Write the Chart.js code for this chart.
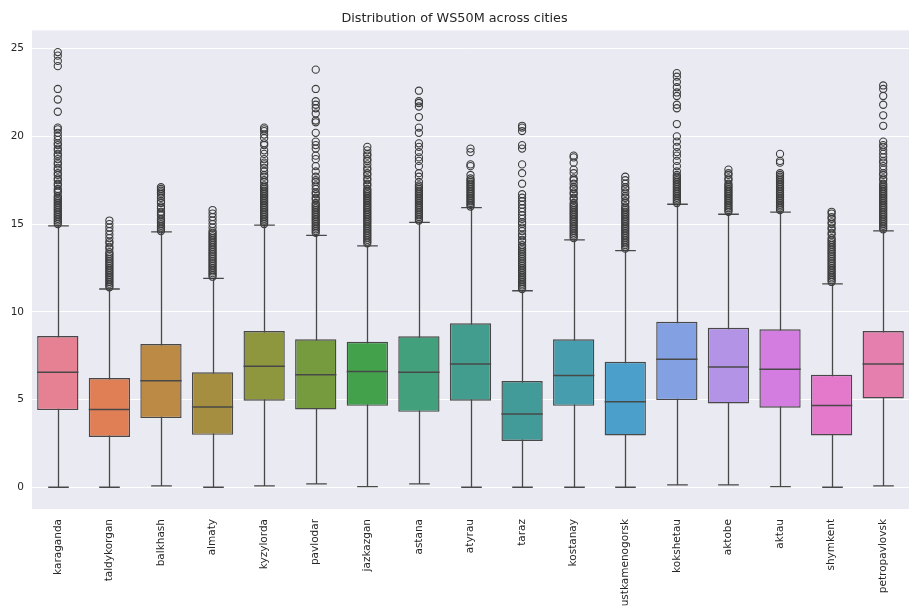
<!DOCTYPE html>
<html>
<head>
<meta charset="utf-8">
<script src="https://cdn.jsdelivr.net/npm/chart.js@4.4.1/dist/chart.umd.min.js"></script>
<style>
  body { margin: 0; background: #fff; }
  #wrap { width: 909px; height: 609px; }
  canvas { display: block; }
</style>
</head>
<body>
<div id="wrap"><canvas id="myChart" width="909" height="609"></canvas></div>
<script>
// cities on the x axis
const cities = ['karaganda', 'taldykorgan', 'balkhash', 'almaty', 'kyzylorda', 'pavlodar', 'jazkazgan', 'astana', 'atyrau',
  'taraz', 'kostanay', 'ustkamenogorsk', 'kokshetau', 'aktobe', 'aktau', 'shymkent', 'petropavlovsk'];

// box stats (WS50M)
const whiskerLow  = [0.00, 0.00, 0.08, 0.00, 0.08, 0.19, 0.04, 0.19, 0.00, 0.00, 0.00, 0.00, 0.13, 0.13, 0.04, 0.00, 0.08];
const q1          = [4.40, 2.87, 3.94, 2.99, 4.93, 4.43, 4.64, 4.30, 4.93, 2.64, 4.64, 2.95, 4.97, 4.78, 4.53, 2.95, 5.06];
const median      = [6.55, 4.43, 6.07, 4.57, 6.89, 6.41, 6.60, 6.55, 7.02, 4.17, 6.37, 4.87, 7.29, 6.85, 6.72, 4.66, 7.02];
const q3          = [8.62, 6.22, 8.16, 6.55, 8.90, 8.43, 8.29, 8.60, 9.34, 6.05, 8.43, 7.15, 9.43, 9.09, 9.00, 6.41, 8.90];
const whiskerHigh = [14.90, 11.30, 14.55, 11.91, 14.94, 14.36, 13.76, 15.10, 15.94, 11.20, 14.10, 13.49, 16.13, 15.56, 15.68, 11.59, 14.61];

// outliers per city
const outliers = [
  [15.0, 15.1, 15.2, 15.3, 15.4, 15.5, 15.6, 15.7, 15.8, 15.9, 16.0, 16.1, 16.2, 16.3, 16.4, 16.5, 16.6, 16.8, 16.9, 17.0, 17.2, 17.3, 17.5, 17.6, 17.8, 17.9, 18.1, 18.2, 18.4, 18.5, 18.7, 18.9, 19.0, 19.2, 19.3, 19.5, 19.6, 19.8, 20.0, 20.2, 20.4, 20.5, 21.4, 22.1, 22.7, 24.0, 24.3, 24.6, 24.8],
  [11.4, 11.5, 11.6, 11.7, 11.8, 11.9, 12.0, 12.1, 12.2, 12.3, 12.4, 12.5, 12.6, 12.7, 12.8, 12.9, 13.0, 13.1, 13.2, 13.3, 13.4, 13.6, 13.7, 13.9, 14.0, 14.2, 14.4, 14.6, 14.8, 15.0, 15.2],
  [14.6, 14.7, 14.8, 14.9, 15.0, 15.1, 15.2, 15.3, 15.5, 15.6, 15.7, 15.9, 16.0, 16.2, 16.3, 16.5, 16.7, 16.8, 16.9, 17.0, 17.1],
  [12.0, 12.1, 12.2, 12.3, 12.4, 12.5, 12.6, 12.7, 12.8, 12.9, 13.0, 13.1, 13.2, 13.3, 13.4, 13.5, 13.6, 13.7, 13.8, 13.9, 14.0, 14.1, 14.2, 14.3, 14.4, 14.5, 14.6, 14.8, 15.0, 15.2, 15.4, 15.6, 15.8],
  [15.0, 15.1, 15.2, 15.3, 15.4, 15.5, 15.6, 15.7, 15.8, 15.9, 16.0, 16.1, 16.2, 16.3, 16.4, 16.5, 16.6, 16.7, 16.8, 16.9, 17.0, 17.1, 17.2, 17.4, 17.5, 17.7, 17.8, 18.0, 18.2, 18.4, 18.5, 18.7, 19.0, 19.2, 19.5, 19.6, 19.9, 20.1, 20.3, 20.4, 20.5],
  [14.5, 14.6, 14.7, 14.8, 14.9, 15.0, 15.1, 15.2, 15.3, 15.4, 15.5, 15.6, 15.7, 15.8, 15.9, 16.0, 16.1, 16.2, 16.4, 16.5, 16.7, 16.8, 17.0, 17.2, 17.4, 17.5, 17.7, 18.0, 18.3, 18.7, 18.9, 19.3, 19.5, 19.7, 20.2, 20.8, 20.9, 21.3, 21.6, 21.8, 22.0, 22.7, 23.8],
  [13.9, 14.0, 14.1, 14.2, 14.3, 14.4, 14.5, 14.6, 14.7, 14.8, 14.9, 15.0, 15.1, 15.2, 15.3, 15.4, 15.5, 15.6, 15.7, 15.8, 15.9, 16.0, 16.1, 16.2, 16.3, 16.4, 16.5, 16.6, 16.7, 16.8, 16.9, 17.0, 17.2, 17.3, 17.5, 17.6, 17.8, 17.9, 18.1, 18.2, 18.4, 18.6, 18.7, 18.9, 19.0, 19.2, 19.4],
  [15.2, 15.3, 15.4, 15.5, 15.6, 15.7, 15.8, 15.9, 16.0, 16.1, 16.2, 16.3, 16.4, 16.5, 16.6, 16.7, 16.8, 16.9, 17.0, 17.1, 17.2, 17.4, 17.7, 17.9, 18.3, 18.6, 18.8, 19.1, 19.4, 19.6, 20.2, 20.5, 21.1, 21.7, 21.9, 22.0, 22.6],
  [16.0, 16.1, 16.2, 16.3, 16.4, 16.5, 16.6, 16.7, 16.8, 16.9, 17.0, 17.1, 17.2, 17.3, 17.4, 17.5, 17.6, 17.8, 18.3, 18.4, 19.1, 19.3],
  [11.3, 11.4, 11.5, 11.6, 11.7, 11.8, 11.9, 12.0, 12.1, 12.2, 12.3, 12.4, 12.5, 12.6, 12.7, 12.8, 12.9, 13.0, 13.1, 13.2, 13.3, 13.4, 13.5, 13.6, 13.7, 13.8, 14.0, 14.1, 14.3, 14.4, 14.6, 14.8, 15.0, 15.1, 15.3, 15.5, 15.7, 15.9, 16.1, 16.3, 16.5, 16.7, 17.3, 17.9, 18.4, 19.3, 19.5, 20.3, 20.5, 20.6],
  [14.2, 14.3, 14.4, 14.5, 14.6, 14.7, 14.8, 14.9, 15.0, 15.1, 15.2, 15.3, 15.4, 15.5, 15.6, 15.7, 15.8, 15.9, 16.0, 16.1, 16.2, 16.4, 16.5, 16.7, 16.8, 17.0, 17.1, 17.3, 17.5, 17.6, 17.9, 18.1, 18.5, 18.8, 18.9],
  [13.6, 13.7, 13.8, 13.9, 14.0, 14.1, 14.2, 14.3, 14.4, 14.5, 14.6, 14.7, 14.8, 14.9, 15.0, 15.1, 15.2, 15.3, 15.4, 15.5, 15.6, 15.7, 15.8, 15.9, 16.0, 16.2, 16.3, 16.5, 16.6, 16.8, 17.0, 17.1, 17.3, 17.5, 17.7],
  [16.2, 16.3, 16.4, 16.5, 16.6, 16.7, 16.8, 16.9, 17.0, 17.1, 17.2, 17.3, 17.4, 17.5, 17.6, 17.7, 17.8, 18.0, 18.3, 18.6, 18.9, 19.1, 19.4, 19.7, 20.0, 20.7, 21.6, 21.8, 22.3, 22.5, 22.8, 23.1, 23.4, 23.6],
  [15.7, 15.8, 15.9, 16.0, 16.1, 16.2, 16.3, 16.4, 16.5, 16.6, 16.7, 16.8, 16.9, 17.0, 17.1, 17.2, 17.3, 17.5, 17.6, 17.8, 17.9, 18.1],
  [15.8, 15.9, 16.0, 16.1, 16.2, 16.3, 16.4, 16.5, 16.6, 16.7, 16.8, 16.9, 17.0, 17.1, 17.2, 17.3, 17.4, 17.5, 17.6, 17.7, 17.8, 17.9, 18.5, 18.6, 19.0],
  [11.7, 11.8, 11.9, 12.0, 12.1, 12.2, 12.3, 12.4, 12.5, 12.6, 12.7, 12.8, 12.9, 13.0, 13.1, 13.2, 13.3, 13.4, 13.5, 13.6, 13.7, 13.8, 13.9, 14.0, 14.1, 14.2, 14.4, 14.5, 14.7, 14.8, 15.0, 15.1, 15.3, 15.4, 15.6, 15.7],
  [14.7, 14.8, 14.9, 15.0, 15.1, 15.2, 15.3, 15.4, 15.5, 15.6, 15.7, 15.8, 15.9, 16.0, 16.1, 16.2, 16.3, 16.4, 16.5, 16.6, 16.7, 16.8, 16.9, 17.0, 17.1, 17.2, 17.3, 17.5, 17.6, 17.8, 17.9, 18.1, 18.3, 18.5, 18.6, 18.8, 19.0, 19.2, 19.4, 19.5, 19.7, 20.6, 21.2, 21.8, 22.3, 22.7, 22.9]
];

const boxColors = ['#e68193', '#e07f55', '#bd8a45', '#a58e40', '#8e963e', '#769b3e', '#43a14c', '#43a07c', '#439d8e',
  '#439b99', '#469dad', '#4aa0ca', '#82a0e2', '#b393e5', '#d47de0', '#e478cb', '#e47fae'];

const lineColor = '#484848';
const textColor = '#262626';
const fontFamily = '"DejaVu Sans", sans-serif';

const boxRanges = cities.map((c, i) => [q1[i], q3[i]]);
const outlierPoints = [];
cities.forEach((c, i) => {
  outliers[i].forEach(v => outlierPoints.push({x: c, y: v}));
});

// grey panel behind the plot
const panelBg = {
  id: 'panelBg',
  beforeDraw(chart) {
    const {ctx, chartArea} = chart;
    ctx.save();
    ctx.fillStyle = '#eaeaf2';
    ctx.fillRect(chartArea.left, chartArea.top, chartArea.right - chartArea.left, chartArea.bottom - chartArea.top);
    ctx.restore();
  }
};

// whiskers, caps and medians
const boxLines = {
  id: 'boxLines',
  beforeDatasetsDraw(chart) {
    const ctx = chart.ctx;
    const yScale = chart.scales.y;
    const bars = chart.getDatasetMeta(1).data;
    ctx.save();
    ctx.strokeStyle = lineColor;
    ctx.lineWidth = 1.3;
    bars.forEach((bar, i) => {
      const x = Math.round(bar.x) + 0.5;
      const capHalf = bar.width / 4;
      const yLo = yScale.getPixelForValue(whiskerLow[i]);
      const yHi = yScale.getPixelForValue(whiskerHigh[i]);
      ctx.beginPath();
      ctx.moveTo(x, yLo); ctx.lineTo(x, yHi);
      ctx.moveTo(x - capHalf, yLo); ctx.lineTo(x + capHalf, yLo);
      ctx.moveTo(x - capHalf, yHi); ctx.lineTo(x + capHalf, yHi);
      ctx.stroke();
    });
    ctx.restore();
  },
  afterDatasetsDraw(chart) {
    const ctx = chart.ctx;
    const yScale = chart.scales.y;
    const bars = chart.getDatasetMeta(1).data;
    ctx.save();
    ctx.strokeStyle = lineColor;
    ctx.lineWidth = 1.5;
    bars.forEach((bar, i) => {
      const y = yScale.getPixelForValue(median[i]);
      ctx.beginPath();
      ctx.moveTo(bar.x - bar.width / 2, y);
      ctx.lineTo(bar.x + bar.width / 2, y);
      ctx.stroke();
    });
    ctx.restore();
  }
};

const ctx = document.getElementById('myChart').getContext('2d');
const myChart = new Chart(ctx, {
  type: 'bar',
  data: {
    labels: cities,
    datasets: [
      {
        type: 'scatter',
        label: 'outliers',
        data: outlierPoints,
        pointStyle: 'circle',
        pointRadius: 3.6,
        pointBorderWidth: 1.1,
        pointBackgroundColor: 'rgba(0,0,0,0)',
        pointBorderColor: '#3c3c3c',
        showLine: false
      },
      {
        label: 'WS50M',
        data: boxRanges,
        backgroundColor: boxColors,
        borderColor: lineColor,
        borderWidth: 1.4,
        borderSkipped: false,
        barPercentage: 0.8,
        categoryPercentage: 1.0
      }
    ]
  },
  options: {
    responsive: false,
    animation: false,
    layout: { padding: 0, autoPadding: false },
    plugins: {
      legend: { display: false },
      tooltip: { enabled: false },
      title: {
        display: true,
        text: 'Distribution of WS50M across cities',
        color: textColor,
        font: { family: fontFamily, size: 12.8, weight: 'normal' },
        padding: { top: 11, bottom: 4 }
      }
    },
    scales: {
      x: {
        type: 'category',
        offset: true,
        grid: { display: false },
        border: { display: false },
        ticks: {
          color: textColor,
          font: { family: fontFamily, size: 10.5 },
          minRotation: 90,
          maxRotation: 90,
          autoSkip: false,
          padding: 2
        },
        afterFit(scale) {
          scale.height = 100;
          scale.paddingLeft = 0;
          scale.paddingRight = 0;
        }
      },
      y: {
        min: -1.24,
        max: 26.04,
        grid: { color: '#ffffff', lineWidth: 1, drawTicks: false },
        border: { display: false },
        ticks: {
          stepSize: 5,
          includeBounds: false,
          color: textColor,
          font: { family: fontFamily, size: 10.5 },
          padding: 8
        },
        afterFit(scale) { scale.width = 32; }
      }
    }
  },
  plugins: [panelBg, boxLines]
});
</script>
</body>
</html>
